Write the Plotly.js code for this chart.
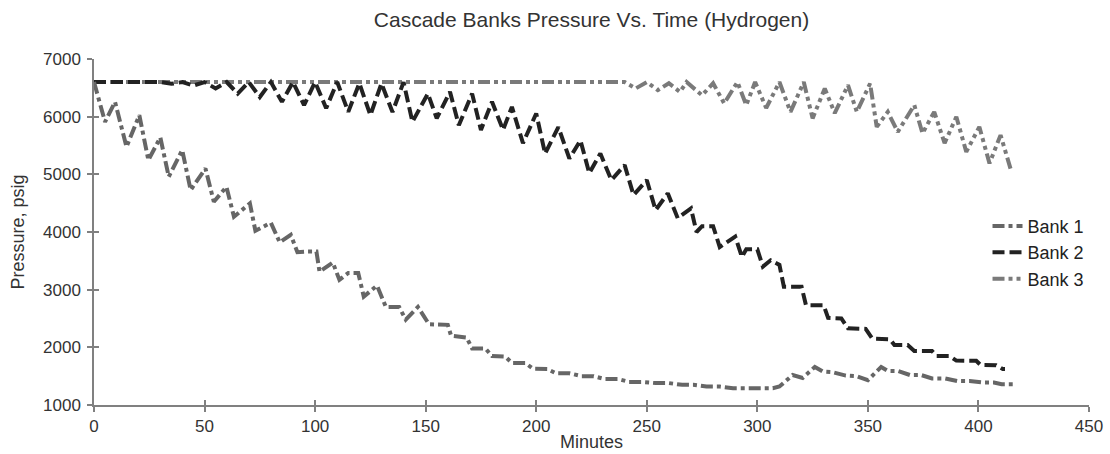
<!DOCTYPE html>
<html>
<head>
<meta charset="utf-8">
<script src="https://cdn.plot.ly/plotly-3.0.1.min.js"></script>
<style>
  html, body { margin: 0; padding: 0; background: #ffffff; }
  #chart { width: 1110px; height: 454px; }
</style>
</head>
<body>
<div id="chart"></div>
<script>
// ---- Data ----
var seriesNames = ["Bank 1", "Bank 2", "Bank 3"];

var bank1Minutes = [0, 5, 9.5, 14.7, 20.5, 24.6, 30, 33.8, 39.9, 43.7, 50.4, 54.2, 59.9, 63.3, 70.5, 73, 80, 84, 89, 92, 96, 100.6, 102, 108, 111, 115, 119.5, 122, 128, 130, 132, 138, 141, 146.5, 151.5, 160, 161.5, 168.5, 171, 177, 180, 186, 189, 195, 198.5, 205, 209, 215, 220.5, 226, 231, 237, 242, 248, 254, 260, 266, 271, 277, 283, 289, 295, 301, 307, 310, 316, 320.5, 326, 329.6, 334, 340, 345, 350, 356, 359, 363.5, 369, 374, 379, 385, 390.5, 396, 402, 407, 410.5, 415.5];
var bank1Psig = [6600, 5910, 6256, 5477, 6026, 5246, 5640, 4957, 5420, 4727, 5102, 4524, 4783, 4264, 4496, 4020, 4160, 3820, 3950, 3650, 3660, 3660, 3310, 3470, 3170, 3290, 3290, 2880, 3070, 2900, 2700, 2700, 2480, 2700, 2400, 2390, 2200, 2170, 1980, 1980, 1850, 1840, 1730, 1730, 1630, 1625, 1550, 1550, 1500, 1500, 1450, 1450, 1400, 1400, 1380, 1380, 1350, 1350, 1320, 1320, 1290, 1290, 1290, 1290, 1320, 1520, 1470, 1660, 1580, 1570, 1510, 1500, 1430, 1660, 1590, 1590, 1520, 1520, 1460, 1460, 1415, 1415, 1390, 1390, 1360, 1360];

var bank2Minutes = [0, 30, 35, 40, 45, 50, 55, 60, 65, 70, 75, 80, 85, 90, 95, 100, 105, 110, 115, 120, 125, 130, 135, 140, 144, 151, 155, 161, 165, 171, 175, 180, 185, 189, 194, 200, 204, 210, 215, 220, 224, 229, 234, 240, 244, 250, 254, 259.5, 264, 270, 272.5, 275, 280, 283, 290, 293, 295, 300, 302.5, 306, 310, 312, 320, 322, 330, 332, 338, 341, 349, 352, 360, 362, 368, 371, 379, 381, 387, 390, 399, 401, 408, 411, 412];
var bank2Psig = [6600, 6600, 6570, 6600, 6540, 6600, 6490, 6600, 6400, 6600, 6340, 6600, 6256, 6600, 6200, 6600, 6147, 6600, 6083, 6580, 6026, 6575, 6080, 6600, 5910, 6400, 5970, 6430, 5850, 6400, 5770, 6260, 5770, 6170, 5540, 6055, 5360, 5820, 5275, 5590, 5020, 5360, 4900, 5160, 4640, 4900, 4380, 4670, 4240, 4410, 4000, 4100, 4100, 3740, 3920, 3570, 3700, 3700, 3400, 3510, 3430, 3050, 3050, 2730, 2730, 2510, 2500, 2330, 2320, 2150, 2140, 2040, 2040, 1936, 1936, 1850, 1850, 1770, 1768, 1693, 1690, 1624, 1624];

var bank3Minutes = [0, 240, 245, 250, 255, 260, 265, 268, 275, 280, 285, 291, 295, 299, 304, 310, 315, 321, 325, 330.5, 335, 341, 345, 351, 354, 359, 363.5, 371, 374.7, 380, 384.7, 390, 394.5, 400.4, 405, 410, 414.5];
var bank3Psig = [6600, 6600, 6490, 6600, 6460, 6580, 6430, 6600, 6370, 6580, 6230, 6600, 6200, 6600, 6150, 6600, 6083, 6600, 5970, 6490, 6060, 6546, 6083, 6575, 5823, 6083, 5737, 6200, 5710, 6083, 5540, 5997, 5390, 5823, 5190, 5680, 5100];

var xTickValues = [0, 50, 100, 150, 200, 250, 300, 350, 400, 450];
var yTickValues = [1000, 2000, 3000, 4000, 5000, 6000, 7000];

var chartTitle = "Cascade Banks Pressure Vs. Time (Hydrogen)";
var xTitle = "Minutes";
var yTitle = "Pressure, psig";

// ---- Styling ----
var FONT = "Liberation Sans, Arial, Helvetica, sans-serif";
var AXIS_COLOR = "#808080";
var TEXT_COLOR = "#333333";

var traces = [
  {
    x: bank3Minutes, y: bank3Psig, name: seriesNames[2], type: "scatter", mode: "lines",
    line: { color: "#7a7a7a", width: 4, dash: "12px,4px,4px,4px,4px,4px" },
    legendrank: 3, hoverinfo: "x+y+name"
  },
  {
    x: bank2Minutes, y: bank2Psig, name: seriesNames[1], type: "scatter", mode: "lines",
    line: { color: "#222222", width: 4, dash: "12px,5px" },
    legendrank: 2, hoverinfo: "x+y+name"
  },
  {
    x: bank1Minutes, y: bank1Psig, name: seriesNames[0], type: "scatter", mode: "lines",
    line: { color: "#666666", width: 4, dash: "12px,4px,4px,4px" },
    legendrank: 1, hoverinfo: "x+y+name"
  },
  // empty trace to host the inner half of the crossing tick marks
  { x: [], y: [], xaxis: "x2", yaxis: "y2", type: "scatter", mode: "lines", showlegend: false, hoverinfo: "skip" }
];

var layout = {
  width: 1110,
  height: 454,
  margin: { l: 94, r: 21, t: 59, b: 49, pad: 0 },
  paper_bgcolor: "#ffffff",
  plot_bgcolor: "#ffffff",
  font: { family: FONT, size: 17, color: TEXT_COLOR },
  title: {
    text: chartTitle,
    font: { family: FONT, size: 21, color: TEXT_COLOR },
    x: 0.5, xref: "paper", xanchor: "center",
    y: 0.956, yref: "container", yanchor: "middle"
  },
  xaxis: {
    range: [0, 450],
    tickvals: xTickValues,
    ticktext: xTickValues.map(String),
    showgrid: false, zeroline: false,
    showline: true, linecolor: AXIS_COLOR, linewidth: 1.5,
    ticks: "outside", ticklen: 5, tickwidth: 1.5, tickcolor: AXIS_COLOR,
    tickfont: { family: FONT, size: 17, color: TEXT_COLOR },
    title: { text: xTitle, font: { family: FONT, size: 18, color: TEXT_COLOR }, standoff: 0 },
    fixedrange: true
  },
  yaxis: {
    range: [1000, 7000],
    tickvals: yTickValues,
    ticktext: yTickValues.map(String),
    showgrid: false, zeroline: false,
    showline: true, linecolor: AXIS_COLOR, linewidth: 1.5,
    ticks: "outside", ticklen: 5, tickwidth: 1.5, tickcolor: AXIS_COLOR,
    ticklabelstandoff: 3,
    tickfont: { family: FONT, size: 17, color: TEXT_COLOR },
    title: { text: yTitle, font: { family: FONT, size: 18, color: TEXT_COLOR }, standoff: 14 },
    fixedrange: true
  },
  xaxis2: {
    overlaying: "x", anchor: "y2", side: "bottom",
    range: [0, 450], tickvals: xTickValues,
    showticklabels: false, showgrid: false, zeroline: false, showline: false,
    ticks: "inside", ticklen: 5, tickwidth: 1.5, tickcolor: AXIS_COLOR,
    fixedrange: true
  },
  yaxis2: {
    overlaying: "y", anchor: "x2", side: "left",
    range: [1000, 7000], tickvals: yTickValues,
    showticklabels: false, showgrid: false, zeroline: false, showline: false,
    ticks: "inside", ticklen: 5, tickwidth: 1.5, tickcolor: AXIS_COLOR,
    fixedrange: true
  },
  showlegend: true,
  legend: {
    x: 0.898, xanchor: "left",
    y: 0.44, yanchor: "middle",
    bgcolor: "rgba(255,255,255,0)",
    borderwidth: 0,
    font: { family: FONT, size: 18, color: "#222222" },
    traceorder: "normal"
  },
  hovermode: "closest"
};

Plotly.newPlot("chart", traces, layout, { displayModeBar: false, responsive: false, staticPlot: false });
</script>
</body>
</html>
